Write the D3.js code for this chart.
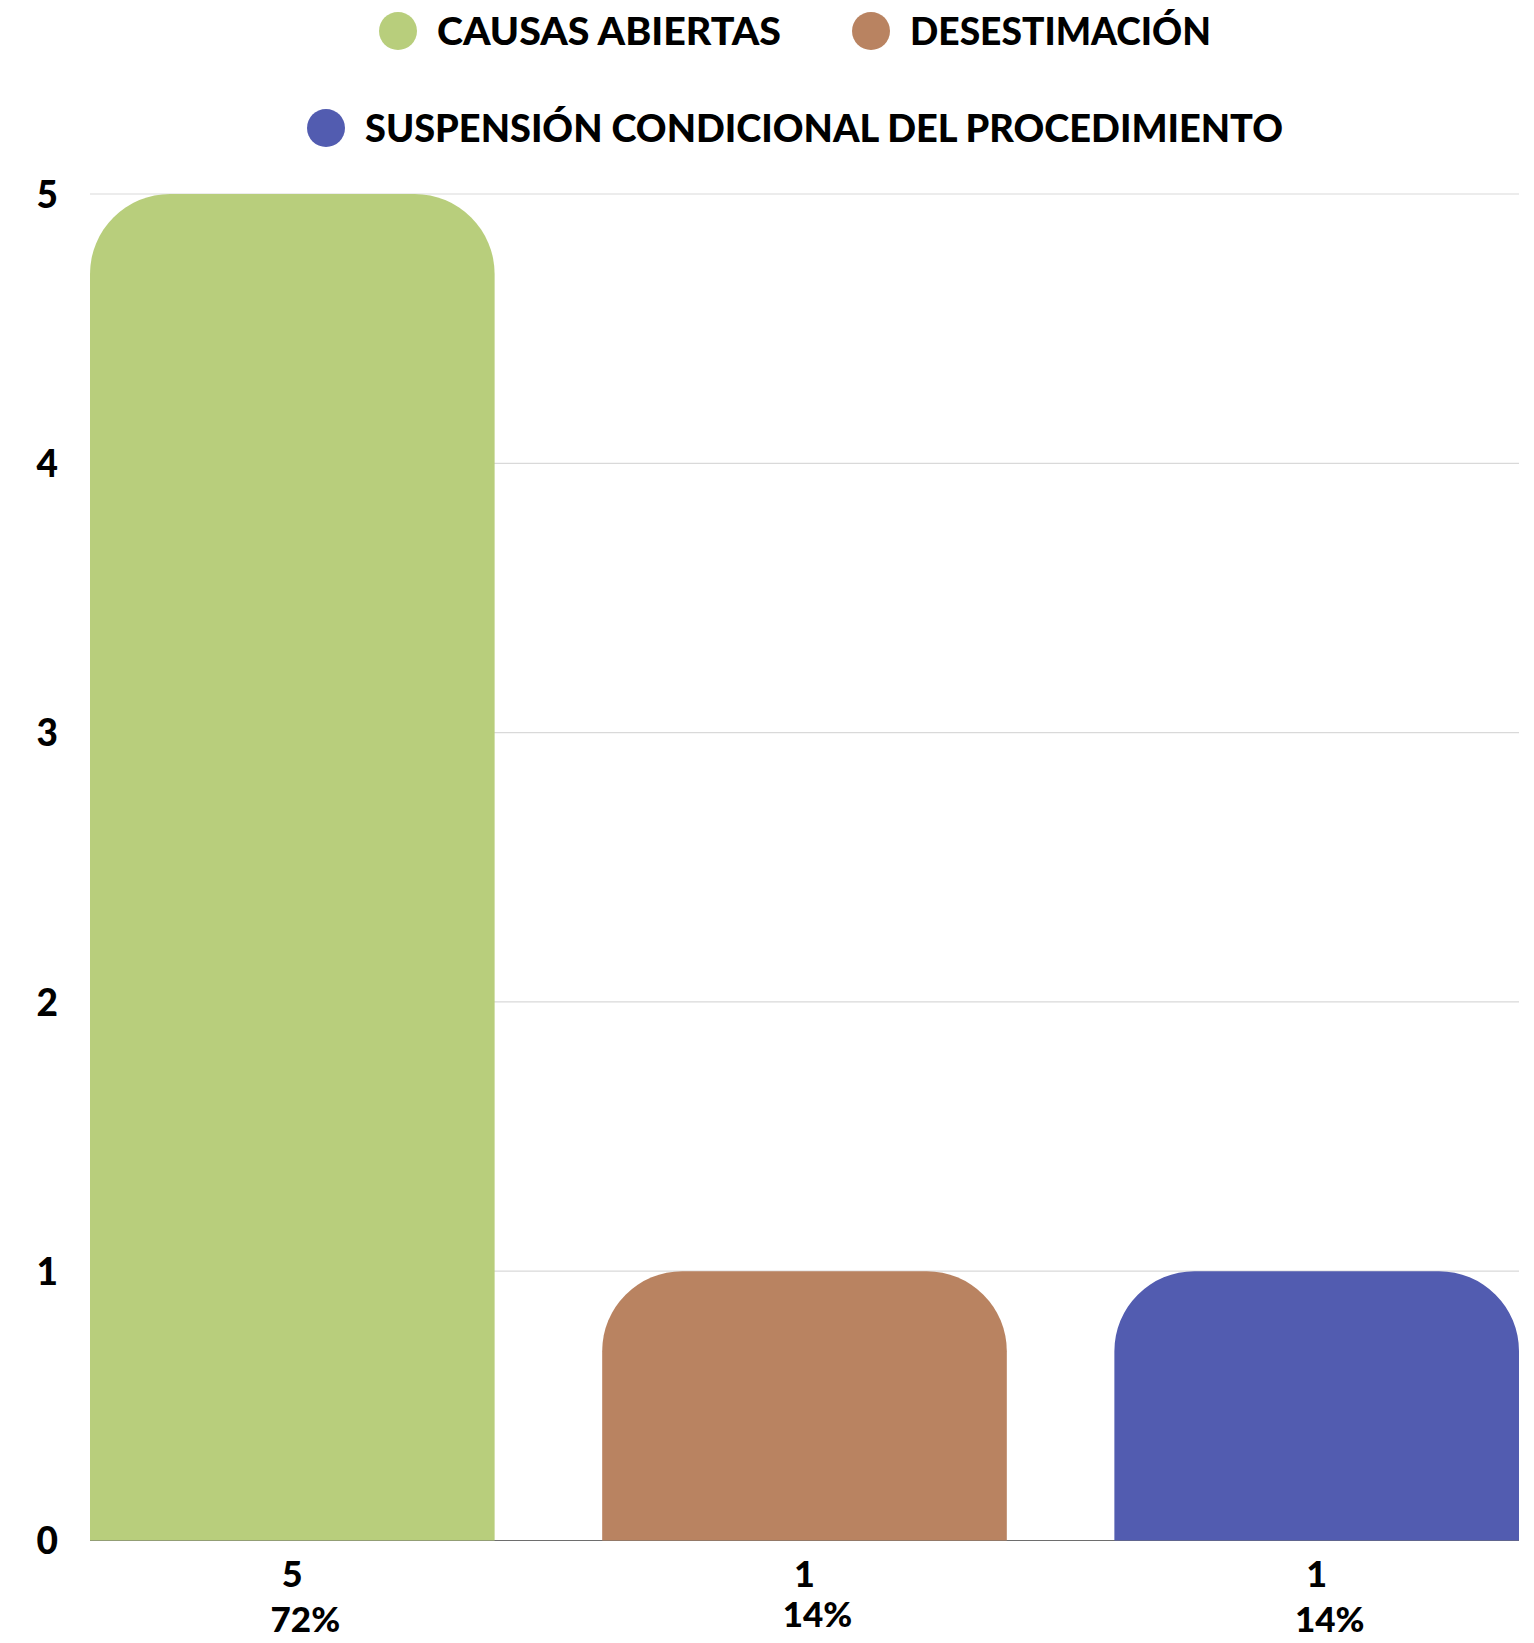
<!DOCTYPE html>
<html>
<head>
<meta charset="utf-8">
<script src="https://cdn.jsdelivr.net/npm/d3@7"></script>
<style>
  html, body { margin: 0; padding: 0; background: #fff; }
  svg { display: block; }
  text { font-family: Lato, "Open Sans", sans-serif; font-weight: 900; fill: #000; }
</style>
</head>
<body>
<svg id="chart" width="1534" height="1643"></svg>
<script>
const categories = ["CAUSAS ABIERTAS", "DESESTIMACIÓN", "SUSPENSIÓN CONDICIONAL DEL PROCEDIMIENTO"];
const values = [5, 1, 1];
const percentLabels = ["72%", "14%", "14%"];
const colors = ["#b8ce7c", "#b98361", "#525cb0"];
const yTicks = [0, 1, 2, 3, 4, 5];
const legendRows = [[0, 1], [2]];
const legendTextWidths = [344, 301, 918];

const svg = d3.select("#chart");
const W = 1534, H = 1643;
const margin = { left: 90, right: 15, top: 194, bottom: 102.5 };

const x = d3.scaleBand()
  .domain(categories)
  .range([margin.left, W - margin.right])
  .paddingInner(0.21)
  .paddingOuter(0);

const y = d3.scaleLinear()
  .domain([0, 5])
  .range([H - margin.bottom, margin.top]);

// gridlines
svg.append("g")
  .selectAll("line")
  .data(yTicks.filter(d => d > 0))
  .join("line")
  .attr("x1", margin.left)
  .attr("x2", W - margin.right)
  .attr("y1", d => y(d))
  .attr("y2", d => y(d))
  .attr("stroke", "#d9d9d9")
  .attr("stroke-width", 1.2);

// baseline
svg.append("line")
  .attr("x1", margin.left)
  .attr("x2", W - margin.right)
  .attr("y1", y(0))
  .attr("y2", y(0))
  .attr("stroke", "#6e6e6e")
  .attr("stroke-width", 1.2);

// y-axis labels
const yAxis = d3.axisLeft(y).tickValues(yTicks).tickSize(0).tickPadding(0).tickFormat(d3.format("d"));
const gy = svg.append("g").attr("transform", `translate(58,0)`).call(yAxis);
gy.select(".domain").remove();
gy.selectAll("text")
  .attr("font-size", 37)
  .attr("dy", "0.36em")
  .style("font-family", "Lato, sans-serif")
  .style("font-weight", 900)
  .attr("fill", "#000");

// bars with rounded top corners
function barPath(x0, y0, w, h, r) {
  r = Math.min(r, w / 2, h);
  return `M${x0},${y0 + h}` +
    `V${y0 + r}` +
    `A${r},${r} 0 0 1 ${x0 + r},${y0}` +
    `H${x0 + w - r}` +
    `A${r},${r} 0 0 1 ${x0 + w},${y0 + r}` +
    `V${y0 + h}Z`;
}

svg.append("g")
  .selectAll("path")
  .data(categories)
  .join("path")
  .attr("d", (c, i) => barPath(x(c), y(values[i]), x.bandwidth(), y(0) - y(values[i]), 80))
  .attr("fill", (c, i) => colors[i]);

// bottom labels
const lab = svg.append("g");
lab.selectAll("text.val")
  .data(categories)
  .join("text")
  .attr("class", "val")
  .attr("x", c => x(c) + x.bandwidth() / 2)
  .attr("y", 1587)
  .attr("text-anchor", "middle")
  .attr("font-size", 36)
  .text((c, i) => values[i]);

const pctDy = [0, -5, 0];
lab.selectAll("text.pct")
  .data(categories)
  .join("text")
  .attr("class", "pct")
  .attr("x", c => x(c) + x.bandwidth() / 2 + 13)
  .attr("y", (c, i) => 1632 + pctDy[i])
  .attr("text-anchor", "middle")
  .attr("font-size", 35)
  .text((c, i) => percentLabels[i]);

// legend
const legend = svg.append("g");
const legendCenter = 795;
const rowY = [31, 128];
const circleR = 19, gapCT = 20, itemGap = 71, fontSize = 38;
legendRows.forEach((row, ri) => {
  const g = legend.append("g");
  const items = row.map(i => {
    const ig = g.append("g");
    ig.append("circle").attr("r", circleR).attr("cx", circleR).attr("cy", 0).attr("fill", colors[i]);
    ig.append("text")
      .attr("x", circleR * 2 + gapCT)
      .attr("y", 0)
      .attr("dy", "0.36em")
      .attr("font-size", fontSize)
      .attr("textLength", legendTextWidths[i])
      .attr("lengthAdjust", "spacingAndGlyphs")
      .text(categories[i]);
    const w = circleR * 2 + gapCT + legendTextWidths[i];
    return { ig, w };
  });
  const total = d3.sum(items, d => d.w) + itemGap * (items.length - 1);
  let cx = legendCenter - total / 2;
  items.forEach(it => {
    it.ig.attr("transform", `translate(${cx},${rowY[ri]})`);
    cx += it.w + itemGap;
  });
});
</script>
</body>
</html>
